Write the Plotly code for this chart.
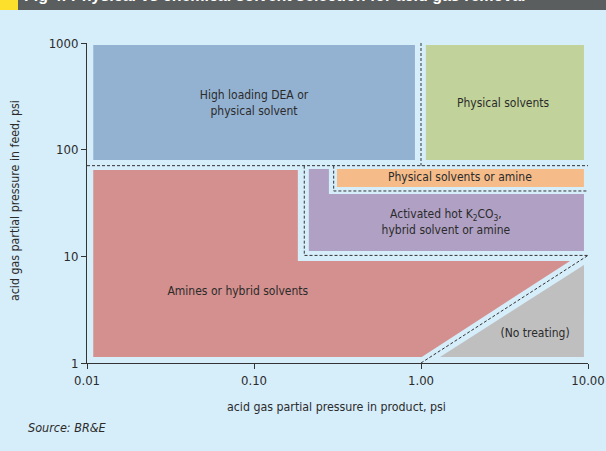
import plotly.graph_objects as go

# ---- data (psi) ----
x_ticks = [0.01, 0.1, 1, 10]
x_ticklabels = ["0.01", "0.10", "1.00", "10.00"]
y_ticks = [1, 10, 100, 1000]
y_ticklabels = ["1", "10", "100", "1000"]

blue_x = [0.0109, 0.92, 0.92, 0.0109]
blue_y = [80, 80, 958, 958]
green_x = [1.07, 9.46, 9.46, 1.07]
green_y = [80, 80, 958, 958]
orange_x = [0.314, 9.46, 9.46, 0.314]
orange_y = [44.7, 44.7, 65.9, 65.9]
purple_x = [0.213, 0.281, 0.281, 9.46, 9.46, 0.213]
purple_y = [65.9, 65.9, 38.4, 38.4, 11.2, 11.2]
red_x = [0.0109, 0.183, 0.183, 7.8, 1.01, 0.0109]
red_y = [64.5, 64.5, 9.04, 9.04, 1.14, 1.14]
gray_x = [1.30, 9.46, 9.46]
gray_y = [1.14, 8.3, 1.14]

dash_h_x = [0.01, 10]
dash_h_y = [70.8, 70.8]
dash_v_x = [1.0, 1.0]
dash_v_y = [1000, 70.8]
dash_purple_x = [0.2, 0.2, 10]
dash_purple_y = [70.8, 10.2, 10.2]
dash_orange_x = [0.30, 0.30, 10]
dash_orange_y = [70.8, 41, 41]
dash_diag_x = [1.0, 10]
dash_diag_y = [1.0, 10.2]

labels = ["High loading DEA or<br>physical solvent", "Physical solvents",
          "Physical solvents or amine",
          "Activated hot K<sub>2</sub>CO<sub>3</sub>,<br>hybrid solvent or amine",
          "Amines or hybrid solvents", "(No treating)"]
label_x = [0.1, 3.1, 1.71, 1.41, 0.080, 4.82]
label_y = [268, 268, 54.3, 20.5, 4.63, 1.87]

BG = "#d6edfa"
FONT = "Liberation Sans Narrow, DejaVu Sans Condensed, Roboto, sans-serif"
TXT = "#2b2b2b"

fig = go.Figure()

def region(xs, ys, color):
    fig.add_trace(go.Scatter(x=xs, y=ys, fill="toself", fillcolor=color,
                             mode="lines", line=dict(width=0), hoverinfo="skip",
                             showlegend=False))

region(blue_x, blue_y, "#93b1d1")
region(green_x, green_y, "#c1d39a")
region(red_x, red_y, "#d3908e")
region(orange_x, orange_y, "#f5bc8a")
region(purple_x, purple_y, "#b0a1c4")
region(gray_x, gray_y, "#bfbfbf")

for xs, ys in [(dash_h_x, dash_h_y), (dash_v_x, dash_v_y), (dash_purple_x, dash_purple_y),
               (dash_orange_x, dash_orange_y), (dash_diag_x, dash_diag_y)]:
    fig.add_trace(go.Scatter(x=xs, y=ys, mode="lines",
                             line=dict(color="#333333", width=1, dash="3px,2px"),
                             hoverinfo="skip", showlegend=False))

fig.add_trace(go.Scatter(x=label_x, y=label_y, text=labels, mode="text",
                         textfont=dict(family=FONT, size=12, color=TXT),
                         hoverinfo="skip", showlegend=False))

fig.update_xaxes(type="log", range=[-2, 1], tickvals=x_ticks, ticktext=x_ticklabels,
                 showgrid=False, zeroline=False, showline=True, linecolor="#333333",
                 linewidth=1, ticks="outside", ticklen=5, tickcolor="#333333",
                 ticklabeloverflow="allow", automargin=False,
                 tickfont=dict(family=FONT, size=13, color=TXT))
fig.update_yaxes(type="log", range=[0, 3], tickvals=y_ticks, ticktext=y_ticklabels,
                 showgrid=False, zeroline=False, showline=True, linecolor="#333333",
                 linewidth=1, ticks="outside", ticklen=5, tickcolor="#333333",
                 ticklabeloverflow="allow", automargin=False,
                 tickfont=dict(family=FONT, size=13, color=TXT))

W, H = 606, 451
L, R, T, B = 87, 18, 43, 88
pw, ph = W - L - R, H - T - B

def px(x):
    return (x - L) / pw

def py(y):
    return (H - B - y) / ph

shapes = [
    dict(type="rect", xref="paper", yref="paper", x0=px(0), x1=px(W), y0=py(10), y1=py(0),
         fillcolor="#5b5e5e", line=dict(width=0), layer="above"),
    dict(type="rect", xref="paper", yref="paper", x0=px(0), x1=px(18), y0=py(10), y1=py(0),
         fillcolor="#fde02b", line=dict(width=0), layer="above"),
]

annotations = [
    dict(text="<b>Fig 4: Physical vs chemical solvent selection for acid gas removal</b>",
         xref="paper", yref="paper", x=px(22), y=py(6), xanchor="left", yanchor="bottom",
         showarrow=False, font=dict(family="Liberation Sans, Arial, sans-serif", size=16, color="white")),
    dict(text="acid gas partial pressure in product, psi", xref="paper", yref="paper",
         x=px(336), y=py(407), xanchor="center", yanchor="middle", showarrow=False,
         font=dict(family=FONT, size=12.3, color=TXT)),
    dict(text="acid gas partial pressure in feed, psi", xref="paper", yref="paper",
         x=px(15), y=py(201), xanchor="center", yanchor="middle", textangle=-90, showarrow=False,
         font=dict(family=FONT, size=12.3, color=TXT)),
    dict(text="<i>Source: BR&E</i>", xref="paper", yref="paper",
         x=px(26), y=py(427), xanchor="left", yanchor="middle", showarrow=False,
         font=dict(family=FONT, size=12.5, color=TXT)),
]

fig.update_layout(width=W, height=H, margin=dict(l=L, r=R, t=T, b=B, pad=0, autoexpand=False),
                  paper_bgcolor=BG, plot_bgcolor=BG, shapes=shapes, annotations=annotations,
                  showlegend=False)

fig.write_html("out.html", config={"displayModeBar": False, "staticPlot": True},
               post_script="document.body.style.margin='0';document.body.style.overflow='hidden';")
